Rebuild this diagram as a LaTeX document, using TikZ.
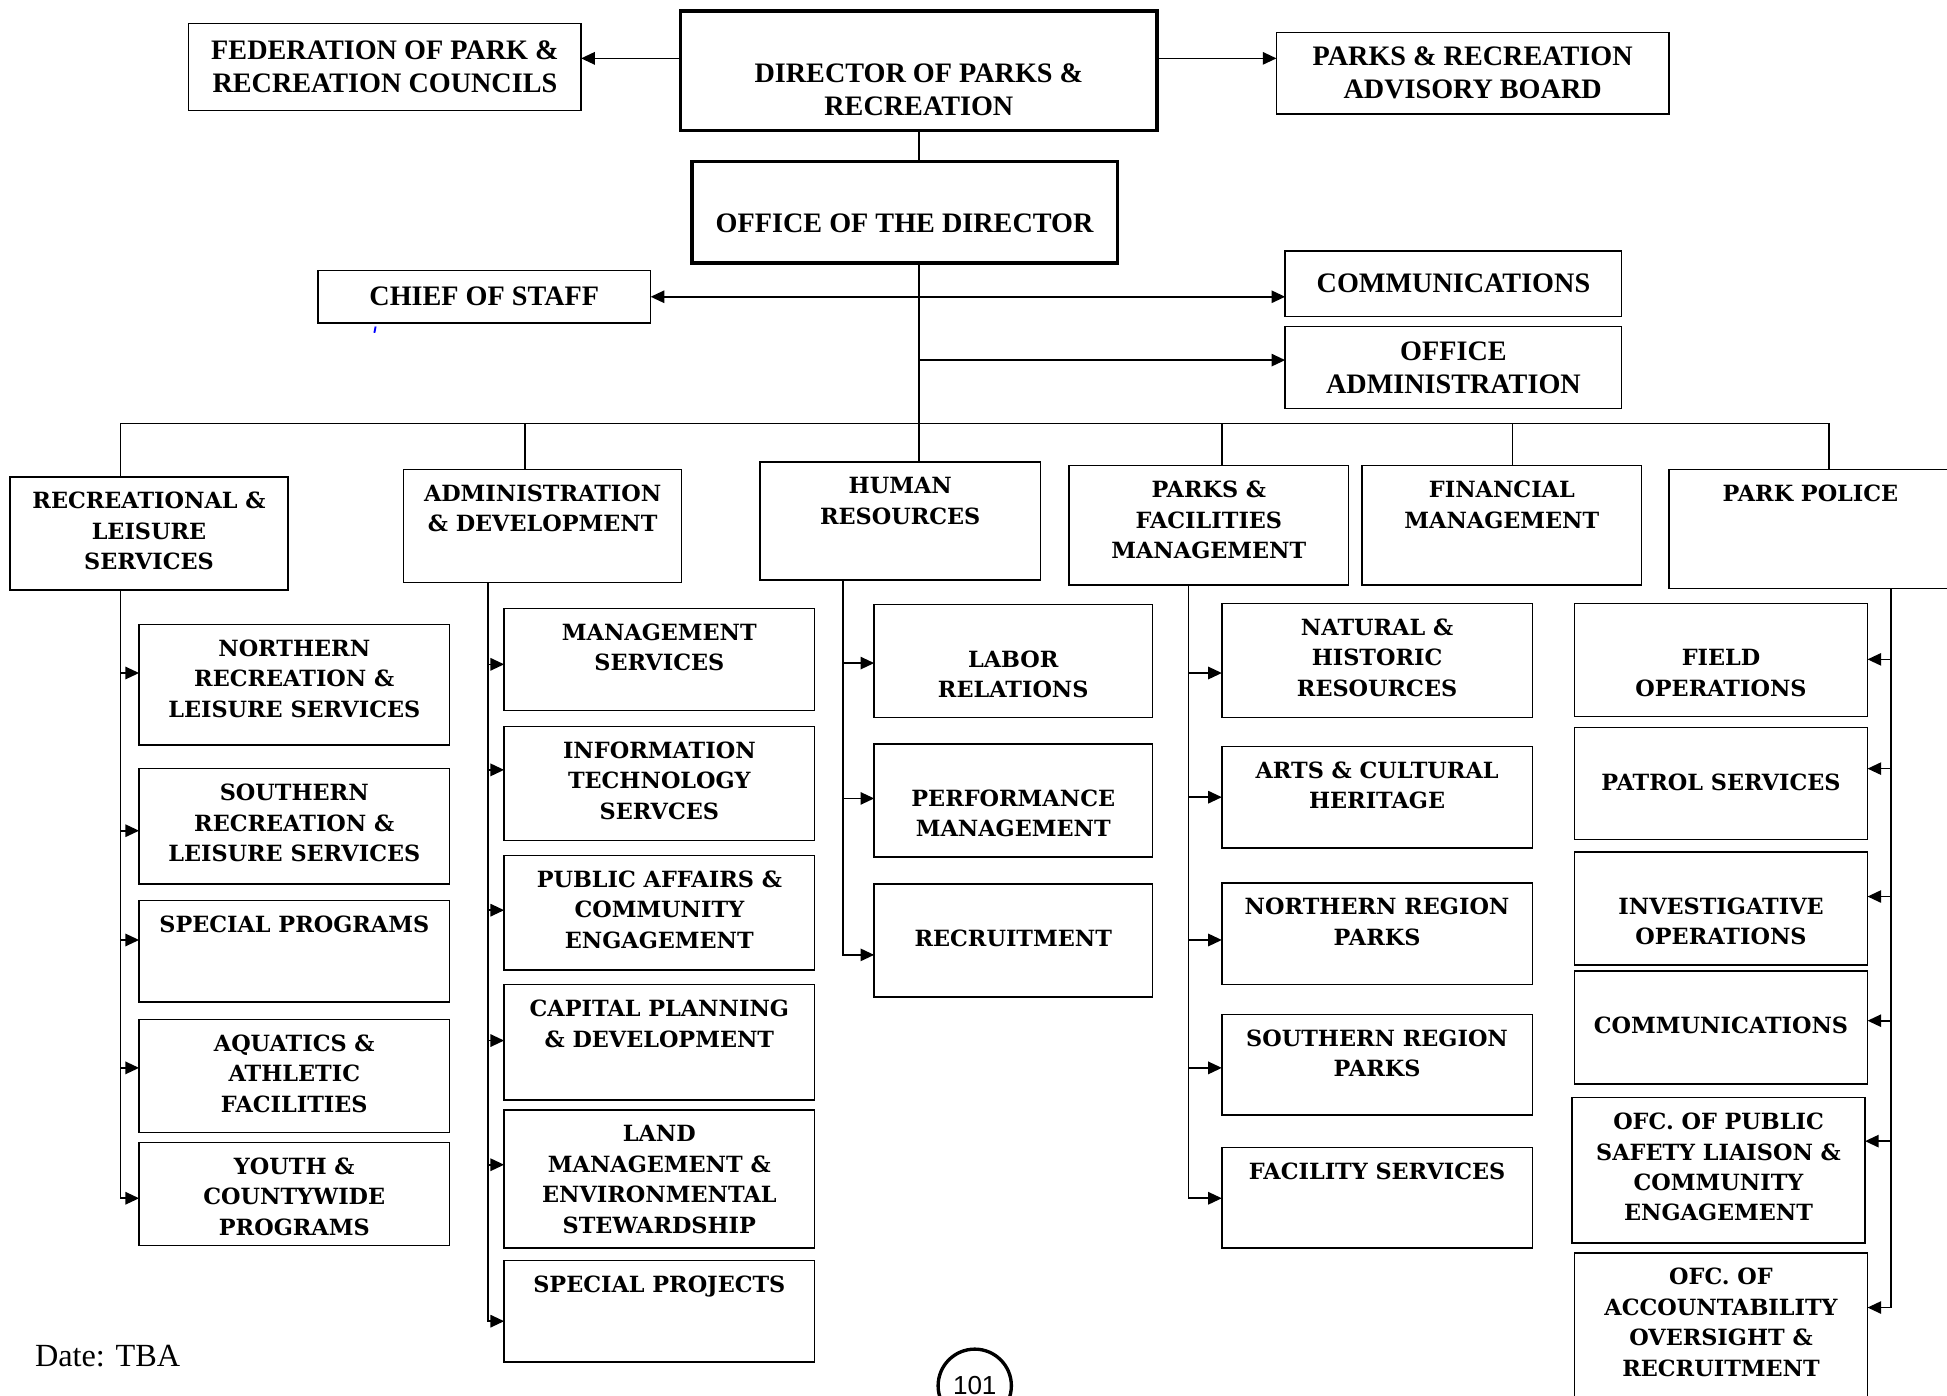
\documentclass[tikz,border=0pt]{standalone}
\usepackage{fontspec}
\setmainfont{Liberation Serif}
\newfontfamily\unitserif{DejaVu Serif}
\newfontfamily\pagesans{Liberation Sans}
\usetikzlibrary{arrows.meta}

\newcommand\rowfont{\bfseries\fontsize{22.7}{26.5}\selectfont}
\newcommand\unitfont{\unitserif\bfseries\fontsize{18}{24.5}\selectfont}

\tikzset{
  hibox/.style={draw, line width=1.2pt, inner sep=0pt, outer sep=0pt, align=center, font=\rowfont},
  headbox/.style={hibox, line width=3pt},
  hitext/.style={anchor=north, yshift=-42.5pt, inner sep=0pt, outer sep=0pt, align=center, font=\rowfont},
  unitbox/.style={draw, line width=1.2pt, inner sep=0pt, outer sep=0pt},
  unittext/.style={anchor=north, yshift=-12.4pt, inner sep=0pt, outer sep=0pt, align=center, font=\unitfont},
  lowered/.style={yshift=-24.5pt},
  link/.style={line width=1.3pt},
  arr/.style={link, -{Triangle[length=11pt,width=10pt]}},
  arrs/.style={link, {Triangle[length=11pt,width=10pt]}-{Triangle[length=11pt,width=10pt]}},
}

\begin{document}
\begin{tikzpicture}[x=1pt, y=-1pt]
  \useasboundingbox (0,0) rectangle (1568,1124);
  \clip (0,0) rectangle (1568,1124);

  % director and office
  \node[headbox, minimum width=384pt, minimum height=96pt] (dir) at (740,57) {};
  \node[hitext] (dir-l) at (dir.north) {DIRECTOR OF PARKS \&\\RECREATION};
  \node[hibox, minimum width=316pt, minimum height=70pt] (fed) at (310,54) {FEDERATION OF PARK \&\\RECREATION COUNCILS};
  \node[hibox, minimum width=316pt, minimum height=66pt] (adv) at (1186,59) {PARKS \& RECREATION\\ADVISORY BOARD};
  \node[headbox, minimum width=343pt, minimum height=82pt] (ofc) at (728.5,171) {};
  \node[hitext] (ofc-l) at (ofc.north) {OFFICE OF THE DIRECTOR};
  \node[hibox, minimum width=268pt, minimum height=42pt] (chief) at (390,239) {CHIEF OF STAFF};
  \node[hibox, minimum width=271pt, minimum height=53pt] (comm) at (1170.5,228.5) {COMMUNICATIONS};
  \node[hibox, minimum width=271pt, minimum height=66pt] (offadm) at (1170.5,296) {OFFICE\\ADMINISTRATION};

  % divisions
  \node[unitbox, minimum width=224pt, minimum height=91pt] (rls) at (120,429.5) {};
  \node[unittext] (rls-l) at (rls.north) {RECREATIONAL \&\\LEISURE\\SERVICES};
  \node[unitbox, minimum width=224pt, minimum height=91pt] (ad) at (437,423.5) {};
  \node[unittext] (ad-l) at (ad.north) {ADMINISTRATION\\\& DEVELOPMENT};
  \node[unitbox, minimum width=226pt, minimum height=95pt] (hr) at (725,419.5) {};
  \node[unittext] (hr-l) at (hr.north) {HUMAN\\RESOURCES};
  \node[unitbox, minimum width=225pt, minimum height=96pt] (pf) at (973.5,423) {};
  \node[unittext] (pf-l) at (pf.north) {PARKS \&\\FACILITIES\\MANAGEMENT};
  \node[unitbox, minimum width=225pt, minimum height=96pt] (fm) at (1209.5,423) {};
  \node[unittext] (fm-l) at (fm.north) {FINANCIAL\\MANAGEMENT};
  \node[unitbox, minimum width=228pt, minimum height=96pt] (pp) at (1458,426) {};
  \node[unittext] (pp-l) at (pp.north) {PARK POLICE};

  % recreational & leisure services
  \node[unitbox, minimum width=250pt, minimum height=97pt] (nrls) at (237,551.5) {};
  \node[unittext] (nrls-l) at (nrls.north) {NORTHERN\\RECREATION \&\\LEISURE SERVICES};
  \node[unitbox, minimum width=250pt, minimum height=93pt] (srls) at (237,665.5) {};
  \node[unittext] (srls-l) at (srls.north) {SOUTHERN\\RECREATION \&\\LEISURE SERVICES};
  \node[unitbox, minimum width=250pt, minimum height=82pt] (sprog) at (237,766) {};
  \node[unittext] (sprog-l) at (sprog.north) {SPECIAL PROGRAMS};
  \node[unitbox, minimum width=250pt, minimum height=91pt] (aq) at (237,866.5) {};
  \node[unittext] (aq-l) at (aq.north) {AQUATICS \&\\ATHLETIC\\FACILITIES};
  \node[unitbox, minimum width=250pt, minimum height=83pt] (youth) at (237,961.5) {};
  \node[unittext] (youth-l) at (youth.north) {YOUTH \&\\COUNTYWIDE\\PROGRAMS};

  % administration & development
  \node[unitbox, minimum width=250pt, minimum height=82pt] (ms) at (531,531) {};
  \node[unittext] (ms-l) at (ms.north) {MANAGEMENT\\SERVICES};
  \node[unitbox, minimum width=250pt, minimum height=92pt] (it) at (531,631) {};
  \node[unittext] (it-l) at (it.north) {INFORMATION\\TECHNOLOGY\\SERVCES};
  \node[unitbox, minimum width=250pt, minimum height=92pt] (pa) at (531,735) {};
  \node[unittext] (pa-l) at (pa.north) {PUBLIC AFFAIRS \&\\COMMUNITY\\ENGAGEMENT};
  \node[unitbox, minimum width=250pt, minimum height=93pt] (cp) at (531,839.5) {};
  \node[unittext] (cp-l) at (cp.north) {CAPITAL PLANNING\\\& DEVELOPMENT};
  \node[unitbox, minimum width=250pt, minimum height=111pt] (lm) at (531,949.5) {};
  \node[unittext] (lm-l) at (lm.north) {LAND\\MANAGEMENT \&\\ENVIRONMENTAL\\STEWARDSHIP};
  \node[unitbox, minimum width=250pt, minimum height=82pt] (sp) at (531,1056) {};
  \node[unittext] (sp-l) at (sp.north) {SPECIAL PROJECTS};

  % human resources
  \node[unitbox, minimum width=224pt, minimum height=91pt] (lr) at (816,532.5) {};
  \node[unittext, lowered] (lr-l) at (lr.north) {LABOR\\RELATIONS};
  \node[unitbox, minimum width=224pt, minimum height=91pt] (pm) at (816,644.5) {};
  \node[unittext, lowered] (pm-l) at (pm.north) {PERFORMANCE\\MANAGEMENT};
  \node[unitbox, minimum width=224pt, minimum height=91pt] (rec) at (816,757.5) {};
  \node[unittext, lowered] (rec-l) at (rec.north) {RECRUITMENT};

  % parks & facilities management
  \node[unitbox, minimum width=250pt, minimum height=92pt] (nh) at (1109,532) {};
  \node[unittext] (nh-l) at (nh.north) {NATURAL \&\\HISTORIC\\RESOURCES};
  \node[unitbox, minimum width=250pt, minimum height=82pt] (ac) at (1109,642) {};
  \node[unittext] (ac-l) at (ac.north) {ARTS \& CULTURAL\\HERITAGE};
  \node[unitbox, minimum width=250pt, minimum height=82pt] (nr) at (1109,752) {};
  \node[unittext] (nr-l) at (nr.north) {NORTHERN REGION\\PARKS};
  \node[unitbox, minimum width=250pt, minimum height=81pt] (sr) at (1109,857.5) {};
  \node[unittext] (sr-l) at (sr.north) {SOUTHERN REGION\\PARKS};
  \node[unitbox, minimum width=250pt, minimum height=81pt] (fs) at (1109,964.5) {};
  \node[unittext] (fs-l) at (fs.north) {FACILITY SERVICES};

  % park police
  \node[unitbox, minimum width=236pt, minimum height=91pt] (fo) at (1386,531.5) {};
  \node[unittext, lowered] (fo-l) at (fo.north) {FIELD\\OPERATIONS};
  \node[unitbox, minimum width=236pt, minimum height=90pt] (ps) at (1386,631) {};
  \node[unittext, lowered] (ps-l) at (ps.north) {PATROL SERVICES};
  \node[unitbox, minimum width=236pt, minimum height=91pt] (io) at (1386,731.5) {};
  \node[unittext, lowered] (io-l) at (io.north) {INVESTIGATIVE\\OPERATIONS};
  \node[unitbox, minimum width=236pt, minimum height=91pt] (pcomm) at (1386,827.5) {};
  \node[unittext, lowered] (pcomm-l) at (pcomm.north) {COMMUNICATIONS};
  \node[unitbox, minimum width=236pt, minimum height=117pt] (opsl) at (1384,942.5) {};
  \node[unittext] (opsl-l) at (opsl.north) {OFC. OF PUBLIC\\SAFETY LIAISON \&\\COMMUNITY\\ENGAGEMENT};
  \node[unitbox, minimum width=236pt, minimum height=126pt] (oao) at (1386,1072) {};
  \node[unittext] (oao-l) at (oao.north) {OFC. OF\\ACCOUNTABILITY\\OVERSIGHT \&\\RECRUITMENT};

  % footer
  \node[anchor=base west, inner sep=0pt, font=\fontsize{26}{30}\selectfont] (date) at (28,1100.5) {Date: TBA};
  \node[circle, draw, line width=2.7pt, minimum size=59pt, inner sep=0pt, font=\pagesans\fontsize{21}{24}\selectfont] (page) at (785,1116) {101};

  % junctions
  \coordinate (trunk) at (740,341);
  \coordinate (rlsd) at (97,341);
  \coordinate (add) at (423,341);
  \coordinate (pfd) at (984,341);
  \coordinate (fmd) at (1218,341);
  \coordinate (ppd) at (1473,341);
  \coordinate (rlsx) at (97,0);
  \coordinate (adx) at (393,0);
  \coordinate (hrx) at (679,0);
  \coordinate (pfx) at (957,0);
  \coordinate (ppx) at (1523,0);

  % top connectors
  \draw[arr] (dir.west |- 0,47) -- (fed.east |- 0,47);
  \draw[arr] (dir.east |- 0,47) -- (adv.west |- 0,47);
  \draw[link] (dir.south) -- (dir.south |- ofc.north);
  \draw[link] (ofc.south -| trunk) -- (hr.north -| trunk);
  \draw[arrs] (chief.east) -- (chief.east -| comm.west);
  \draw[arr] (trunk |- 0,290) -- (offadm.west |- 0,290);
  \draw[blue, line width=1.5pt] (302.5,263) -- (301.5,268);

  % bar to divisions
  \draw[link] (rlsd) -- (ppd);
  \draw[link] (rlsd) -- (rlsd |- rls.north);
  \draw[link] (add) -- (add |- ad.north);
  \draw[link] (pfd) -- (pfd |- pf.north);
  \draw[link] (fmd) -- (fmd |- fm.north);
  \draw[link] (ppd) -- (ppd |- pp.north);

  % recreational & leisure services
  \draw[arr] (rlsx |- 0,542) -- (nrls.west |- 0,542);
  \draw[arr] (rlsx |- 0,669) -- (srls.west |- 0,669);
  \draw[arr] (rlsx |- 0,757) -- (sprog.west |- 0,757);
  \draw[arr] (rlsx |- 0,860) -- (aq.west |- 0,860);
  \draw[arr] (rls.south -| rlsx) |- (youth.west |- 0,965);

  % administration & development
  \draw[arr] (adx |- 0,535) -- (ms.west |- 0,535);
  \draw[arr] (adx |- 0,620) -- (it.west |- 0,620);
  \draw[arr] (adx |- 0,733) -- (pa.west |- 0,733);
  \draw[arr] (adx |- 0,838) -- (cp.west |- 0,838);
  \draw[arr] (adx |- 0,938) -- (lm.west |- 0,938);
  \draw[arr] (ad.south -| adx) |- (sp.west |- 0,1064);

  % human resources
  \draw[arr] (hrx |- 0,534) -- (lr.west |- 0,534);
  \draw[arr] (hrx |- 0,643) -- (pm.west |- 0,643);
  \draw[arr] (hr.south -| hrx) |- (rec.west |- 0,769);

  % parks & facilities management
  \draw[arr] (pfx |- 0,542) -- (nh.west |- 0,542);
  \draw[arr] (pfx |- 0,642) -- (ac.west |- 0,642);
  \draw[arr] (pfx |- 0,757) -- (nr.west |- 0,757);
  \draw[arr] (pfx |- 0,860) -- (sr.west |- 0,860);
  \draw[arr] (pf.south -| pfx) |- (fs.west |- 0,965);

  % park police
  \draw[arr] (ppx |- 0,531) -- (fo.east |- 0,531);
  \draw[arr] (ppx |- 0,619) -- (ps.east |- 0,619);
  \draw[arr] (ppx |- 0,722) -- (io.east |- 0,722);
  \draw[arr] (ppx |- 0,822) -- (pcomm.east |- 0,822);
  \draw[arr] (ppx |- 0,919) -- (opsl.east |- 0,919);
  \draw[arr] (pp.south -| ppx) |- (oao.east |- 0,1053);

\end{tikzpicture}
\end{document}
